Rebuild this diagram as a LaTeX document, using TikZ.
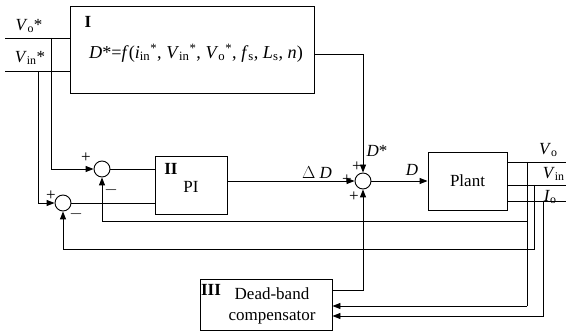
\documentclass[tikz,border=0pt]{standalone}
\usepackage{fontspec}
\setmainfont{Liberation Serif}
\usetikzlibrary{arrows.meta,calc}
\begin{document}
\begin{tikzpicture}[x=1pt,y=-1pt,
  font=\fontsize{17}{20}\selectfont,
  line width=0.9pt,
  blk/.style={draw,rectangle,inner sep=0pt},
  sumc/.style={draw,circle,minimum size=16pt,inner sep=0pt},
  arr/.style={-{Triangle[length=8pt,width=6pt]}},
  lbl/.style={inner sep=0pt}]
\useasboundingbox (0,0) rectangle (566,334);
% blocks
\node[blk,minimum width=244pt,minimum height=87pt] (b1) at (192,49.5) {};
\node[blk,minimum width=72pt,minimum height=58pt] (pi) at (191,185) {};
\node[blk,minimum width=79pt,minimum height=58pt] (plant) at (467.5,181) {Plant};
\node[blk,minimum width=132pt,minimum height=51pt] (db) at (266,304.5) {};
\node[sumc] (s1) at (102,169) {};
\node[sumc] (s2) at (63,203) {};
\node[sumc] (s3) at (363,181) {};
% texts in blocks
\node[lbl] (t1) at (88,22) {\textbf{I}};
\node[lbl,font=\fontsize{18.2}{21}\selectfont] (tf) at (196,53) {\textit{D}*=\textit{f}(\textit{i}\textsubscript{in}\textsuperscript{*}, \textit{V}\textsubscript{in}\textsuperscript{*}, \textit{V}\textsubscript{o}\textsuperscript{*}, \textit{f}\textsubscript{s}, \textit{L}\textsubscript{s}, \textit{n})};
\node[lbl] (t2) at (171,169) {\textbf{II}};
\node[lbl] (tpi) at (191,187) {PI};
\node[lbl] (t3) at (211,290) {\textbf{III}};
\node[lbl] (tdb1) at (272,294) {Dead-band};
\node[lbl] (tdb2) at (272,318) {compensator};
% input labels
\node[lbl] (lvo) at (29,26) {\textit{V}\textsubscript{o}*};
\node[lbl] (lvin) at (30,58) {\textit{V}\textsubscript{in}*};
% coordinates
\coordinate (vo) at (5,38);
\coordinate (vin) at (5,71);
\coordinate (j1) at (51,38);
\coordinate (j2) at (38,71);
\coordinate (b1o) at (314,54);
\coordinate (po) at (566,162);
\coordinate (pin) at (566,185);
\coordinate (pio) at (566,201);
\coordinate (c1) at (527,162);
\coordinate (c2) at (534,185);
\coordinate (c3) at (543,201);
\coordinate (f1) at (527,221);
\coordinate (f2) at (534,249);
\coordinate (f3) at (527,306);
\coordinate (f4) at (543,316);
\coordinate (dbo) at (332,290);
% connectors
\draw (vo) -- (vo -| b1.west);
\draw (vin) -- (vin -| b1.west);
\draw[arr] (j1) |- (s1.west);
\draw[arr] (j2) |- (s2.west);
\draw[arr] (b1o) -| (s3.north);
\draw (s1.east) -- (s1.east -| pi.west);
\draw (s2.east) -- (s2.east -| pi.west);
\draw[arr] (pi.east |- s3) -- (s3.west);
\draw[arr] (s3.east) -- (plant.west);
\draw (plant.east |- po) -- (po);
\draw (plant.east |- pin) -- (pin);
\draw (plant.east |- pio) -- (pio);
\draw (c1) -- (f3);
\draw[arr] (f1) -| (s1.south);
\draw[arr] (c2) |- (f2) -| (s2.south);
\draw[arr] (f3) -- (f3 -| db.east);
\draw[arr] (c3) |- (f4) -- (f4 -| db.east);
\draw[arr] (dbo) -| (s3.south);
% signal labels
\node[lbl] (p1) at (86,158) {+};
\node[lbl] (m1) at (111,190) {$-$};
\node[lbl] (p2) at (51,196) {+};
\node[lbl] (m2) at (76,214) {$-$};
\node[lbl] (p3) at (357,167) {+};
\node[lbl] (p4) at (347,180) {+};
\node[lbl] (p5) at (354,197) {+};
\node[lbl] (ldst) at (377,151) {\textit{D}*};
\node[lbl] (ldd) at (317,173) {$\Delta$ \textit{D}};
\node[lbl] (ld) at (412,170) {\textit{D}};
\node[lbl,anchor=east] (lvo2) at (558,150) {\textit{V}\textsubscript{o}};
\node[lbl,anchor=east] (lvin2) at (565,174) {\textit{V}\textsubscript{in}};
\node[lbl,anchor=east] (lio) at (557,197) {\textit{I}\textsubscript{o}};
\end{tikzpicture}
\end{document}
